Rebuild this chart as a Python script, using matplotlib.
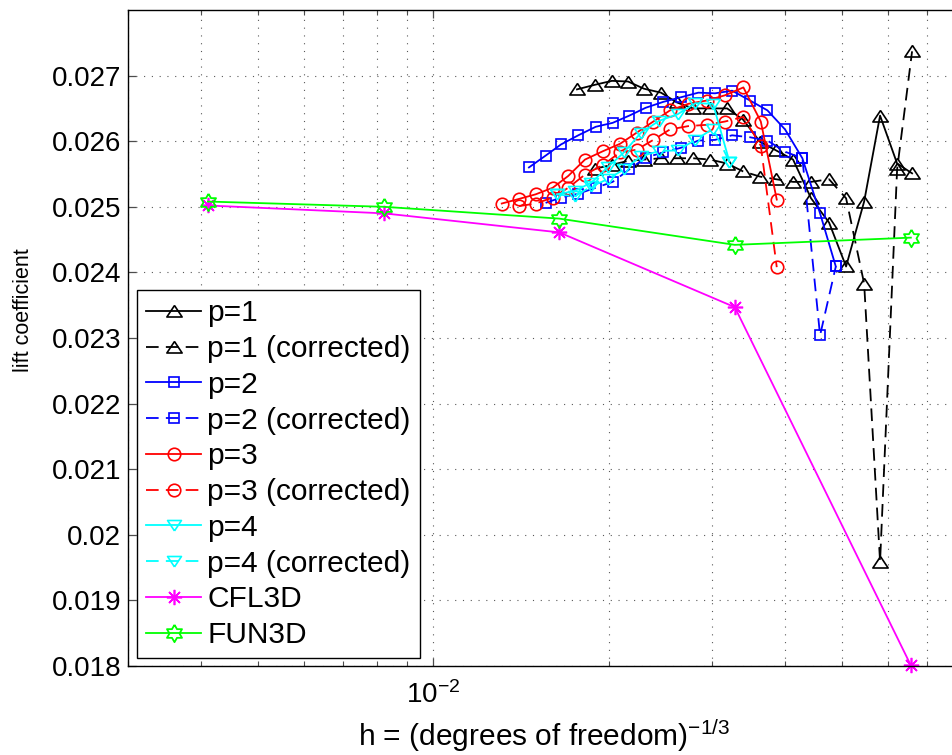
import numpy as np
import matplotlib
matplotlib.use("Agg")
import matplotlib.pyplot as plt
from matplotlib.ticker import FuncFormatter, NullFormatter, LogLocator

plt.rcParams['font.family'] = ['Liberation Sans', 'DejaVu Sans']
plt.rcParams['mathtext.fontset'] = 'custom'
plt.rcParams['mathtext.rm'] = 'Liberation Sans'
plt.rcParams['mathtext.it'] = 'Liberation Sans:italic'
plt.rcParams['mathtext.default'] = 'regular'

# h = dof^(-1/3) and lift coefficient
h_p1 = [0.01761, 0.01890, 0.02021, 0.02153, 0.02293, 0.02452, 0.02612, 0.02782, 0.02975, 0.03182, 0.03388,
        0.03623, 0.03859, 0.04127, 0.04430, 0.04756, 0.05086, 0.05461, 0.05815, 0.06219, 0.06597]
cl_p1 = [0.02679, 0.02686, 0.02692, 0.02691, 0.02680, 0.02674, 0.02659, 0.02650, 0.02650, 0.02650, 0.02633,
         0.02599, 0.02586, 0.02572, 0.02513, 0.02476, 0.02409, 0.02508, 0.02639, 0.02566, 0.02551]
h_p1c = h_p1[1:]
cl_p1c = [0.02558, 0.02564, 0.02570, 0.02572, 0.02574, 0.02574, 0.02574, 0.02572, 0.02566, 0.02554,
          0.02546, 0.02542, 0.02538, 0.02538, 0.02542, 0.02513, 0.02383, 0.01959, 0.02557, 0.02737]

h_p2 = [0.01457, 0.01556, 0.01653, 0.01770, 0.01896, 0.02027, 0.02164, 0.02309, 0.02475, 0.02653,
        0.02841, 0.03034, 0.03245, 0.03483, 0.03730, 0.03998, 0.04281, 0.04590, 0.04884]
cl_p2 = [0.02560, 0.02578, 0.02595, 0.02609, 0.02622, 0.02628, 0.02639, 0.02651, 0.02660, 0.02667,
         0.02674, 0.02673, 0.02677, 0.02662, 0.02647, 0.02618, 0.02574, 0.02490, 0.02409]
h_p2c = h_p2[1:]
cl_p2c = [0.02506, 0.02514, 0.02520, 0.02529, 0.02538, 0.02557, 0.02575, 0.02583, 0.02590,
          0.02601, 0.02602, 0.02609, 0.02606, 0.02601, 0.02584, 0.02574, 0.02304, 0.02409]

h_p3 = [0.01309, 0.01401, 0.01496, 0.01600, 0.01701, 0.01817, 0.01953, 0.02086, 0.02228, 0.02379,
        0.02541, 0.02731, 0.02937, 0.03156, 0.03393, 0.03634, 0.03870]
cl_p3 = [0.02505, 0.02512, 0.02519, 0.02529, 0.02547, 0.02572, 0.02585, 0.02596, 0.02613, 0.02630,
         0.02647, 0.02657, 0.02662, 0.02670, 0.02682, 0.02630, 0.02511]
h_p3c = h_p3[1:]
cl_p3c = [0.02501, 0.02505, 0.02514, 0.02529, 0.02549, 0.02564, 0.02583, 0.02587, 0.02602, 0.02618,
          0.02623, 0.02625, 0.02630, 0.02637, 0.02593, 0.02408]

h_p4 = [0.01626, 0.01744, 0.01864, 0.01986, 0.02119, 0.02266, 0.02433, 0.02617, 0.02809, 0.03010, 0.03211]
cl_p4 = [0.02519, 0.02524, 0.02537, 0.02560, 0.02583, 0.02613, 0.02631, 0.02641, 0.02658, 0.02657, 0.02569]
cl_p4c = [0.02519, 0.02516, 0.02531, 0.02542, 0.02557, 0.02577, 0.02585, 0.02586, 0.02602, 0.02619, 0.02569]

h_ref = [0.00411, 0.00823, 0.01642, 0.03280, 0.06565]
cl_cfl3d = [0.02502, 0.02490, 0.02461, 0.02347, 0.01801]
cl_fun3d = [0.02508, 0.02500, 0.02482, 0.02442, 0.02453]

yticks = [0.018, 0.019, 0.020, 0.021, 0.022, 0.023, 0.024, 0.025, 0.026, 0.027]

# MATLAB-like marker shapes
tri_up = [(0, 0.78), (-1, -0.72), (1, -0.72), (0, 0.78)]
tri_dn = [(0, -0.78), (-1, 0.72), (1, 0.72), (0, -0.78)]
ang = np.pi / 2 + np.arange(12) * np.pi / 6
rad = np.where(np.arange(12) % 2 == 0, 1.0, 0.577)
hexagram = list(zip(rad * np.cos(ang), rad * np.sin(ang)))
hexagram.append(hexagram[0])

fig = plt.figure(figsize=(9.52, 7.55), dpi=100)
ax = fig.add_axes([128 / 952, 1 - 666 / 755, 833 / 952, 656 / 755])

lw = 1.3
dash = (7, 4)
common = dict(lw=lw, markerfacecolor='none', clip_on=False)

ax.plot(h_p1, cl_p1, color='k', marker=tri_up, ms=11, mew=1.2, label='p=1', **common)
ax.plot(h_p1c, cl_p1c, color='k', marker=tri_up, ms=11, mew=1.2, dashes=dash, label='p=1 (corrected)', **common)
ax.plot(h_p2, cl_p2, color='#0000ff', marker='s', ms=7.5, mew=1.2, label='p=2', **common)
ax.plot(h_p2c, cl_p2c, color='#0000ff', marker='s', ms=7.5, mew=1.2, dashes=dash, label='p=2 (corrected)', **common)
ax.plot(h_p3, cl_p3, color='#ff0000', marker='o', ms=9, mew=1.2, label='p=3', **common)
ax.plot(h_p3c, cl_p3c, color='#ff0000', marker='o', ms=9, mew=1.2, dashes=dash, label='p=3 (corrected)', **common)
ax.plot(h_p4, cl_p4, color='#00ffff', marker=tri_dn, ms=10, mew=1.2, label='p=4', **common)
ax.plot(h_p4, cl_p4c, color='#00ffff', marker=tri_dn, ms=10, mew=1.2, dashes=dash, label='p=4 (corrected)', **common)
ax.plot(h_ref, cl_cfl3d, color='#ff00ff', marker=(8, 2, 0), ms=11, mew=1.2, label='CFL3D', **common)
ax.plot(h_ref, cl_fun3d, color='#00ff00', marker=hexagram, ms=12.5, mew=1.3, label='FUN3D', **common)

ax.set_xscale('log')
ax.set_xlim(3e-3, 8e-2)
ax.set_ylim(0.018, 0.028)
ax.set_yticks(yticks)
ax.yaxis.set_major_formatter(FuncFormatter(lambda v, p: '%g' % v))
ax.xaxis.set_major_locator(LogLocator(base=10))
ax.xaxis.set_minor_locator(LogLocator(base=10, subs=np.arange(2, 10)))
ax.xaxis.set_minor_formatter(NullFormatter())

ax.tick_params(which='both', direction='in', top=True, right=True, labelsize=20, color='0.3')
ax.tick_params(which='major', length=6, width=0.9)
ax.tick_params(which='minor', length=3.5, width=0.8)
ax.tick_params(axis='x', pad=11)
ax.tick_params(axis='y', pad=5)

grid_style = dict(color='0.35', lw=0.8, linestyle=(0, (1, 6)))
ax.grid(True, which='major', axis='both', **grid_style)
ax.grid(True, which='minor', axis='x', **grid_style)
ax.set_axisbelow(True)

for s in ax.spines.values():
    s.set_linewidth(1.0)

ax.set_xlabel(r'h = (degrees of freedom)$^{-1/3}$', fontsize=21.5, labelpad=6)
ax.set_ylabel('lift coefficient', fontsize=15.5)
ax.yaxis.set_label_coords(-0.113, 0.543)

leg = ax.legend(loc='lower left', bbox_to_anchor=(0.011, 0.012), borderaxespad=0, fontsize=21.5,
                handlelength=1.85, handletextpad=0.2, labelspacing=0.26, borderpad=0.3,
                fancybox=False, framealpha=1, edgecolor='k')
leg.get_frame().set_linewidth(1.0)

fig.savefig('out.png', dpi=100)
